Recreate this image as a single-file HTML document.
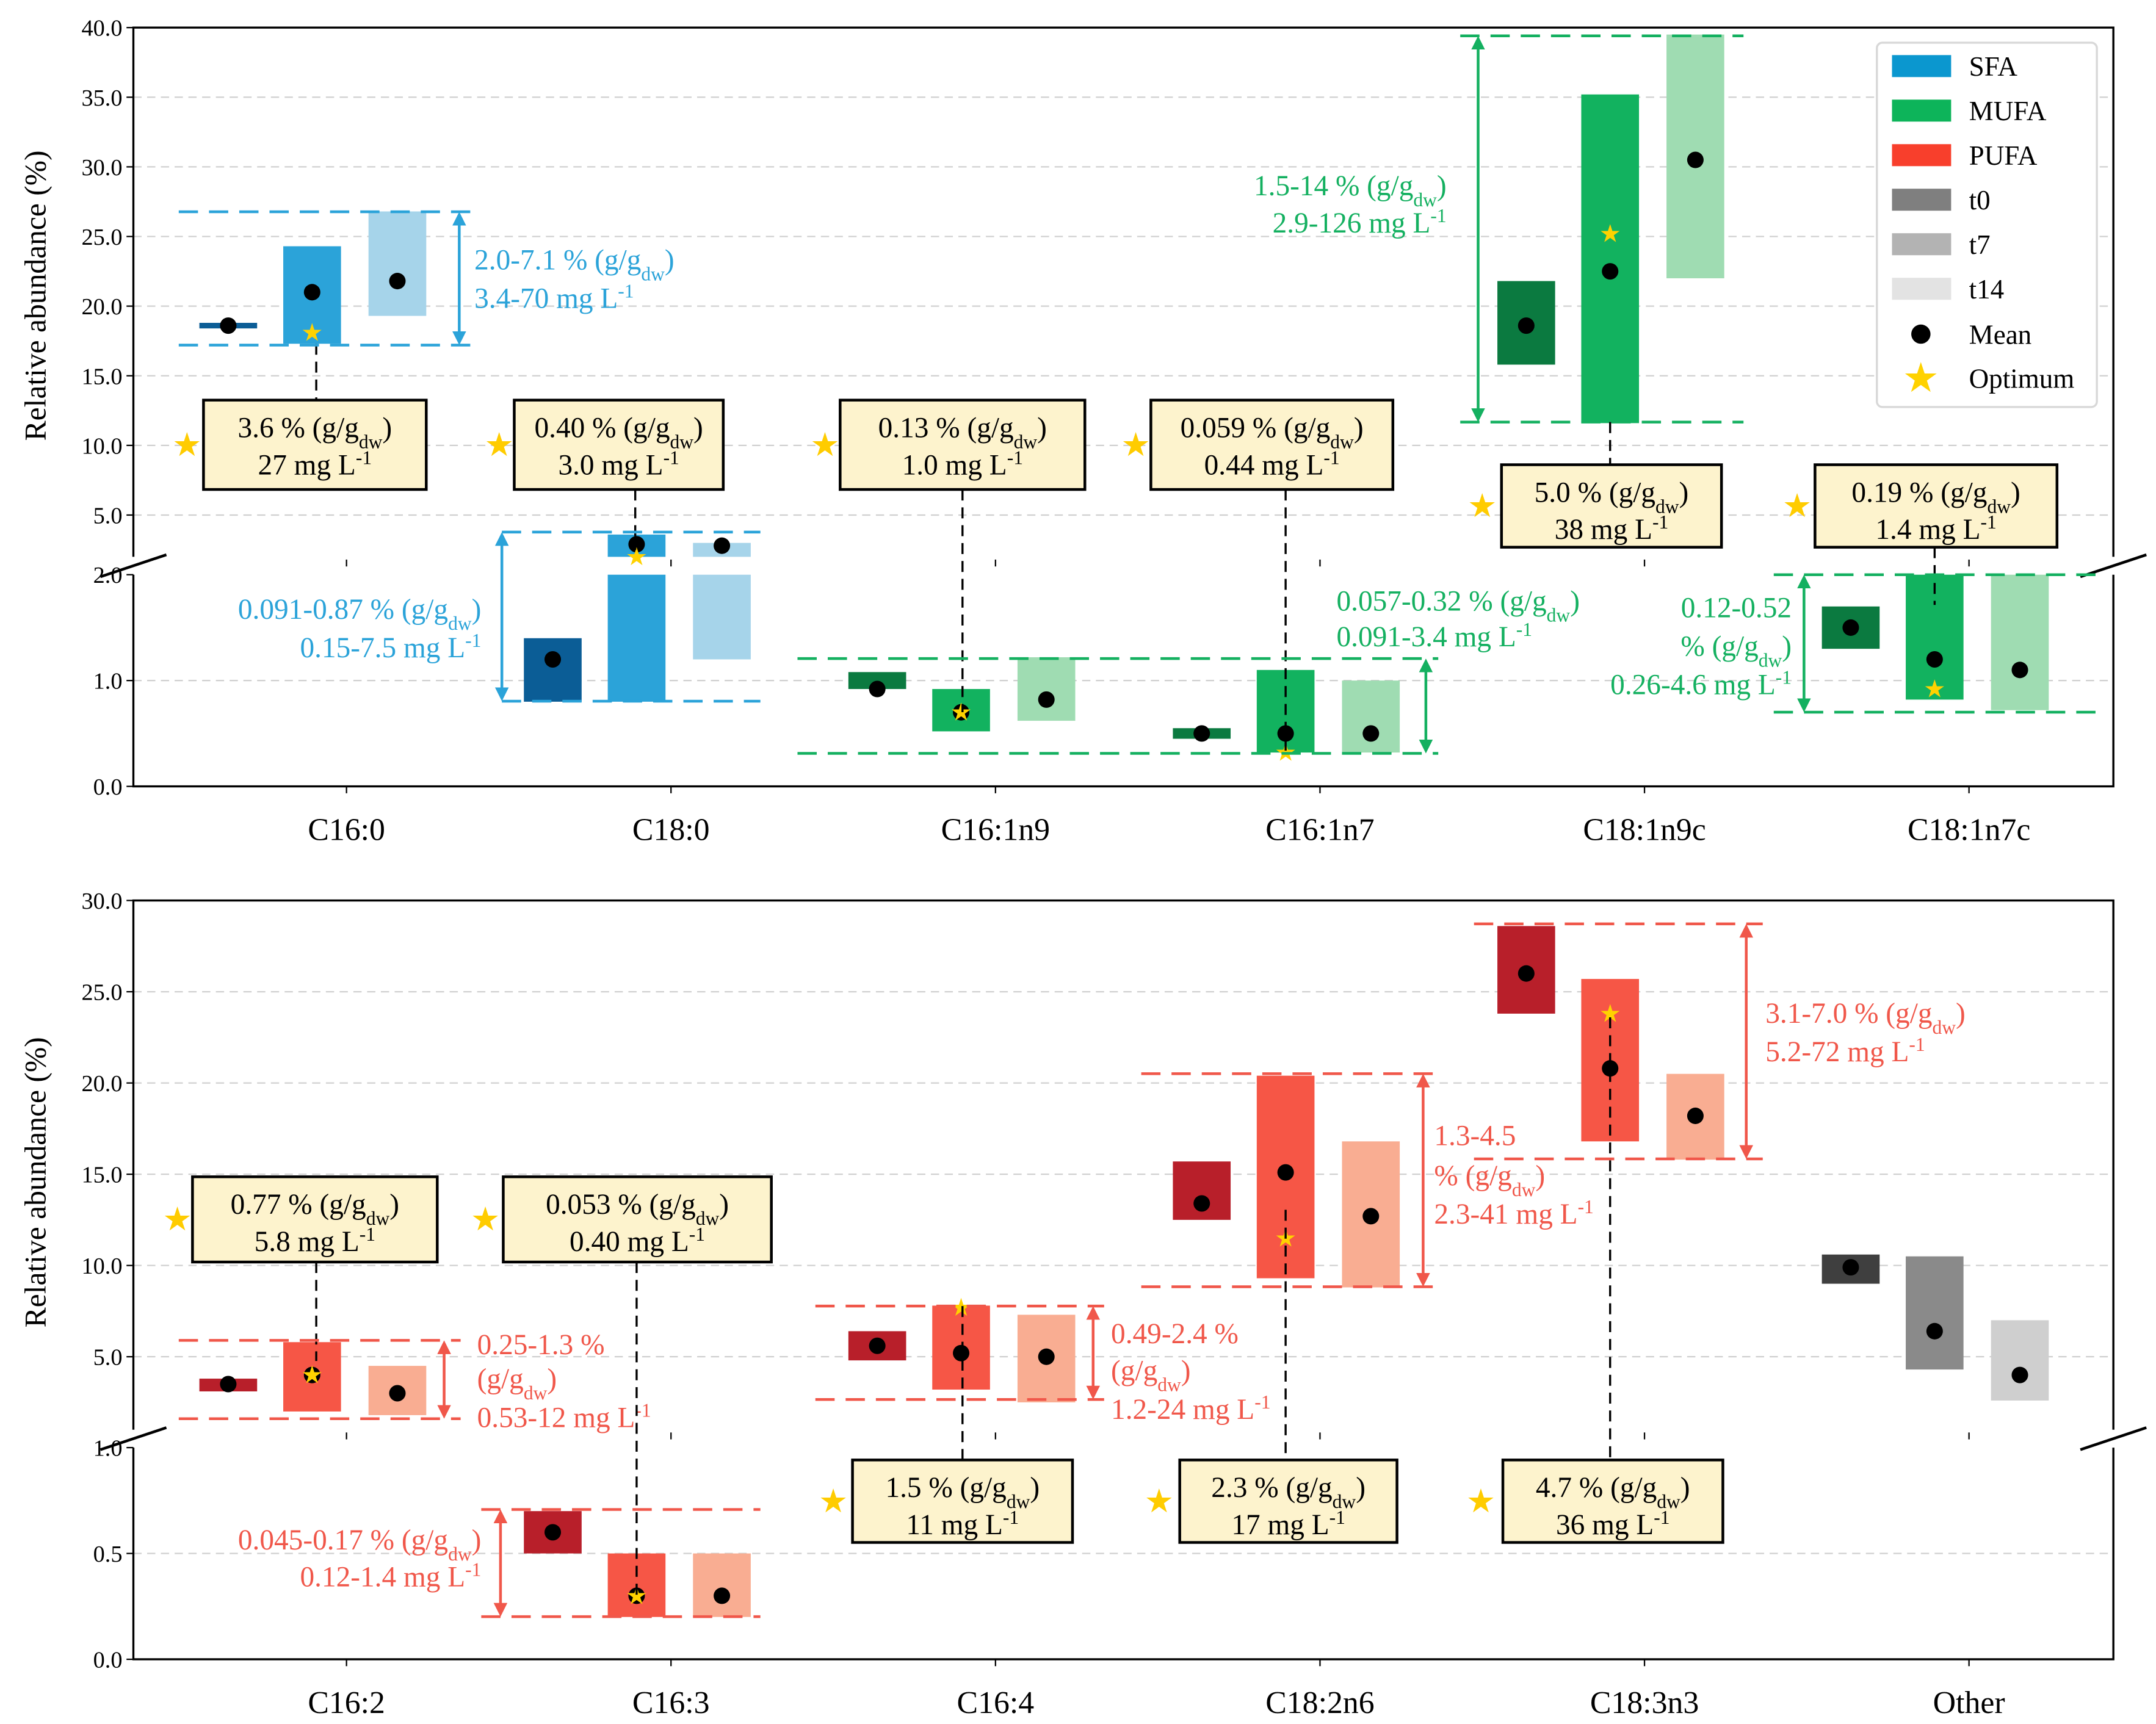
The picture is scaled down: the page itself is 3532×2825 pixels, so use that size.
<!DOCTYPE html>
<html><head><meta charset="utf-8"><style>
html,body{margin:0;padding:0;background:#fff}
svg{display:block}
text{font-family:"Liberation Serif",serif}
</style></head><body>
<svg id="chart" width="3532" height="2825" viewBox="0 0 1568 1254" xmlns="http://www.w3.org/2000/svg">
<defs>
<marker id="arB" markerWidth="10" markerHeight="10" refX="5" refY="5" orient="auto-start-reverse" markerUnits="userSpaceOnUse"><path d="M0,0 L10,5 L0,10 z" fill="#2ba3d9"/></marker>
<marker id="arG" markerWidth="10" markerHeight="10" refX="5" refY="5" orient="auto-start-reverse" markerUnits="userSpaceOnUse"><path d="M0,0 L10,5 L0,10 z" fill="#14b060"/></marker>
<marker id="arR" markerWidth="10" markerHeight="10" refX="5" refY="5" orient="auto-start-reverse" markerUnits="userSpaceOnUse"><path d="M0,0 L10,5 L0,10 z" fill="#f0574a"/></marker>
</defs>
<g id="top"></g>
<g id="bot"></g>
<g id="ann"></g>
</svg>
<script>
// ---- data ----
const topCategories=["C16:0","C18:0","C16:1n9","C16:1n7","C18:1n9c","C18:1n7c"];
const topGroup=["SFA","SFA","MUFA","MUFA","MUFA","MUFA"];
const topLow=[[18.4,17.3,19.3],[0.8,0.8,1.2],[0.92,0.52,0.62],[0.45,0.32,0.32],[15.8,11.6,22.0],[1.3,0.82,0.72]];
const topHigh=[[18.8,24.3,26.8],[1.4,3.6,3.0],[1.08,0.92,1.22],[0.55,1.1,1.0],[21.8,35.2,39.5],[1.7,2.0,2.0]];
const topMean=[[18.6,21.0,21.8],[1.2,2.9,2.8],[0.92,0.7,0.82],[0.5,0.5,0.5],[18.6,22.5,30.5],[1.5,1.2,1.1]];
const topOpt=[18.1,2.0,0.7,0.32,25.2,0.92];
const topUpperTicks=[5,10,15,20,25,30,35,40];
const topLowerTicks=[0,1,2];
const botCategories=["C16:2","C16:3","C16:4","C18:2n6","C18:3n3","Other"];
const botGroup=["PUFA","PUFA","PUFA","PUFA","PUFA","Other"];
const botLow=[[3.1,2.0,1.8],[0.5,0.2,0.2],[4.8,3.2,2.5],[12.5,9.3,8.8],[23.8,16.8,15.8],[9.0,4.3,2.6]];
const botHigh=[[3.8,5.8,4.5],[0.7,0.5,0.5],[6.4,7.8,7.3],[15.7,20.4,16.8],[28.6,25.7,20.5],[10.6,10.5,7.0]];
const botMean=[[3.5,4.0,3.0],[0.6,0.3,0.3],[5.6,5.2,5.0],[13.4,15.1,12.7],[26.0,20.8,18.2],[9.9,6.4,4.0]];
const botOpt=[4.0,0.3,7.7,11.5,23.8,null];
const botUpperTicks=[5,10,15,20,25,30];
const botLowerTicks=[0,0.5,1];

const COLORS={SFA:["#0b5d96","#2ba3d9","#a6d4ea"],MUFA:["#0b7a40","#12b25f","#9fdcb2"],PUFA:["#b81f2a","#f65646","#f9ad92"],Other:["#3f3f3f","#8a8a8a","#cfcfcf"]};
const NS="http://www.w3.org/2000/svg";
function mk(parent,tag,attrs){const e=document.createElementNS(NS,tag);for(const k in attrs)e.setAttribute(k,attrs[k]);parent.appendChild(e);return e;}
const X0=97,X1=1537;
function xCat(i){return 252+i*236;}
const offs=[-86,-25,37], BW=42;

function drawPanel(g,cfg){
  // cfg: yTop,yBot,brkHi (upper seg bottom px), brkLo (lower seg top px), uMin,uMax, lMax
  const uy=v=>cfg.uTopY+(cfg.uMax-v)*(cfg.uBotY-cfg.uTopY)/(cfg.uMax-cfg.uMin);
  const ly=v=>cfg.yBot-v*(cfg.yBot-cfg.lTopY)/cfg.lMax;
  // grid
  cfg.uTicks.forEach(t=>{const y=uy(t);
    const l=mk(g,'line',{x1:X0,x2:X1,y1:y,y2:y,stroke:'#d0d0d0','stroke-dasharray':'6,4','stroke-width':1});
    
    const t2=mk(g,'text',{x:X0-8,y:y+6,'font-size':17,'text-anchor':'end'});t2.textContent=t.toFixed(1);
    
    mk(g,'line',{x1:X0-5,x2:X0,y1:y,y2:y,stroke:'#000'});
  });
  cfg.lTicks.forEach(t=>{const y=ly(t);
    if(t>0&&t<cfg.lMax){const l=mk(g,'line',{x1:X0,x2:X1,y1:y,y2:y,stroke:'#d0d0d0','stroke-dasharray':'6,4'});
      }
    const t2=mk(g,'text',{x:X0-8,y:y+6,'font-size':17,'text-anchor':'end'});t2.textContent=t.toFixed(1);
    
    mk(g,'line',{x1:X0-5,x2:X0,y1:y,y2:y,stroke:'#000'});
  });
  // bars
  cfg.cats.forEach((c,i)=>{
    const cols=COLORS[cfg.group[i]];
    for(let k=0;k<3;k++){
      const lo=cfg.low[i][k],hi=cfg.high[i][k],x=xCat(i)+offs[k]-BW/2;
      // upper segment
      if(hi>cfg.uMin){const a=uy(Math.min(hi,cfg.uMax)),b=uy(Math.max(lo,cfg.uMin));
        const r=mk(g,'rect',{x:x,y:a,width:BW,height:Math.max(b-a,3),fill:cols[k]});
        }
      if(lo<cfg.lMax){const a=ly(Math.min(hi,cfg.lMax)),b=ly(lo);
        const r=mk(g,'rect',{x:x,y:a,width:BW,height:Math.max(b-a,3),fill:cols[k]});
        }
      const m=cfg.mean[i][k];const my=m>=cfg.lMax?uy(m):ly(m);
      const d=mk(g,'circle',{cx:xCat(i)+offs[k],cy:my,r:6,fill:'#000'});
      
    }
    const o=cfg.opt[i];
    if(o!=null){const oy=o>=cfg.lMax?uy(o):ly(o);
      const s=mk(g,'text',{x:xCat(i)+offs[1],y:oy+6,'font-size':18,'text-anchor':'middle',fill:'#ffd200'});s.textContent='★';
      }
    const xt=mk(g,'text',{x:xCat(i),y:cfg.yBot+39,'font-size':23,'text-anchor':'middle'});xt.textContent=c;
    
    mk(g,'line',{x1:xCat(i),x2:xCat(i),y1:cfg.yBot,y2:cfg.yBot+5,stroke:'#000'});
    mk(g,'line',{x1:xCat(i),x2:xCat(i),y1:cfg.uBotY+2,y2:cfg.uBotY+7,stroke:'#000'});
  });
  // frame: white gap band
  const gap=mk(g,'rect',{x:X0-1,y:cfg.uBotY,width:X1-X0+2,height:cfg.lTopY-cfg.uBotY,fill:'none'});
  const f=mk(g,'path',{d:`M${X0},${cfg.uBotY} V${cfg.uTopY} H${X1} V${cfg.uBotY} M${X0},${cfg.lTopY} V${cfg.yBot} H${X1} V${cfg.lTopY}`,fill:'none',stroke:'#000','stroke-width':1.5});
  
  const my=(cfg.uBotY+cfg.lTopY)/2;
  [X0,X1].forEach(x=>{mk(g,'line',{x1:x-24,y1:my+8,x2:x+24,y2:my-8,stroke:'#000','stroke-width':2});});
  const yl=mk(g,'text',{x:0,y:0,'font-size':22,'text-anchor':'middle',transform:`translate(33,${cfg.labelY}) rotate(-90)`});
  yl.textContent='Relative abundance (%)';
}
drawPanel(document.getElementById('top'),{uTopY:20,uBotY:405,uMin:2,uMax:40,lTopY:418,yBot:572,lMax:2,
  uTicks:topUpperTicks,lTicks:topLowerTicks,cats:topCategories,group:topGroup,low:topLow,high:topHigh,mean:topMean,opt:topOpt,labelY:215});
drawPanel(document.getElementById('bot'),{uTopY:655,uBotY:1040,uMin:1,uMax:30,lTopY:1053,yBot:1207,lMax:1,
  uTicks:botUpperTicks,lTicks:botLowerTicks,cats:botCategories,group:botGroup,low:botLow,high:botHigh,mean:botMean,opt:botOpt,labelY:860});

// ---- annotations ----
const A=document.getElementById('ann');
function unitText(x,y,pre,anchor,color,size){
  const t=mk(A,'text',{x:x,y:y,'font-size':size||21,'text-anchor':anchor||'start',fill:color||'#000'});
  t.innerHTML=pre;return t;}
const G='(g/g<tspan baseline-shift="sub" font-size="14">dw</tspan>)';
const L='mg L<tspan baseline-shift="super" font-size="14">-1</tspan>';
function box(x1,y1,x2,y2,l1,l2,starX){
  const r=mk(A,'rect',{x:x1,y:y1,width:x2-x1,height:y2-y1,fill:'#fdf3cd',stroke:'#000','stroke-width':2});
  
  const cx=(x1+x2)/2;
  unitText(cx,y1+27,l1+' % '+G,'middle');
  unitText(cx,y1+54,l2+' '+L,'middle');
  const s=mk(A,'text',{x:starX,y:(y1+y2)/2+8,'font-size':24,'text-anchor':'middle',fill:'#ffcc00'});s.textContent='★';
  
}
function vdash(x,y1,y2){const l=mk(A,'line',{x1:x,x2:x,y1:y1,y2:y2,stroke:'#000','stroke-dasharray':'8,5','stroke-width':1.5});
  }
function range(x1,x2,ya,yb,ax,color,mid){
  [ya,yb].forEach(y=>{const l=mk(A,'line',{x1:x1,x2:x2,y1:y,y2:y,stroke:color,'stroke-dasharray':'14,8','stroke-width':2});
    });
  const a=mk(A,'line',{x1:ax,x2:ax,y1:ya+5,y2:yb-5,stroke:color,'stroke-width':2,'marker-start':`url(#${mid})`,'marker-end':`url(#${mid})`});
  
}
const BL='#2ba3d9',GR='#14b060',RD='#f0574a';
// top
vdash(230,250,291);box(148,291,310,356,'3.6','27',136);
range(130,345,154,251,334,BL,'arB');unitText(345,196,'2.0-7.1 % '+G,'start',BL);unitText(345,224,'3.4-70 '+L,'start',BL);
vdash(462,356,400);box(374,291,526,356,'0.40','3.0',363);
range(365,553,387,510,365,BL,'arB');unitText(350,450,'0.091-0.87 % '+G,'end',BL);unitText(350,478,'0.15-7.5 '+L,'end',BL);
vdash(700,356,518);box(611,291,789,356,'0.13','1.0',600);
vdash(935,356,548);box(837,291,1013,356,'0.059','0.44',826);
range(580,1046,479,548,1037,GR,'arG');unitText(972,444,'0.057-0.32 % '+G,'start',GR);unitText(972,470,'0.091-3.4 '+L,'start',GR);
vdash(1171,307,338);box(1092,338,1252,398,'5.0','38',1078);
range(1062,1268,26,307,1075,GR,'arG');unitText(1052,142,'1.5-14 % '+G,'end',GR);unitText(1052,169,'2.9-126 '+L,'end',GR);
vdash(1407,398,440);box(1320,338,1496,398,'0.19','1.4',1307);
range(1290,1532,418,518,1312,GR,'arG');unitText(1303,449,'0.12-0.52','end',GR);unitText(1303,477,'% '+G,'end',GR);unitText(1303,505,'0.26-4.6 '+L,'end',GR);
// bottom
vdash(230,918,990);box(140,856,318,918,'0.77','5.8',129);
range(130,335,975,1032,323,RD,'arR');unitText(347,985,'0.25-1.3 %','start',RD);unitText(347,1010,G,'start',RD);unitText(347,1038,'0.53-12 '+L,'start',RD);
vdash(463,918,1160);box(366,856,561,918,'0.053','0.40',353);
range(350,553,1098,1176,364,RD,'arR');unitText(350,1127,'0.045-0.17 % '+G,'end',RD);unitText(350,1154,'0.12-1.4 '+L,'end',RD);
vdash(700,950,1062);box(620,1062,780,1122,'1.5','11',606);
range(593,803,950,1018,795,RD,'arR');unitText(808,977,'0.49-2.4 %','start',RD);unitText(808,1004,G,'start',RD);unitText(808,1032,'1.2-24 '+L,'start',RD);
vdash(935,880,1062);box(858,1062,1016,1122,'2.3','17',843);
range(830,1046,781,936,1035,RD,'arR');unitText(1043,833,'1.3-4.5','start',RD);unitText(1043,862,'% '+G,'start',RD);unitText(1043,890,'2.3-41 '+L,'start',RD);
vdash(1171,740,1062);box(1093,1062,1253,1122,'4.7','36',1077);
range(1072,1282,672,843,1270,RD,'arR');unitText(1284,744,'3.1-7.0 % '+G,'start',RD);unitText(1284,772,'5.2-72 '+L,'start',RD);

// legend
const LG=mk(A,'g',{});
mk(LG,'rect',{x:1365,y:31,width:160,height:265,rx:4,fill:'#fff',stroke:'#d8d8d8','stroke-width':1.5});
const legItems=[["SFA","#0b97cf"],["MUFA","#0db45a"],["PUFA","#f83f2c"],["t0","#7f7f7f"],["t7","#b3b3b3"],["t14","#e3e3e3"]];
legItems.forEach((it,i)=>{const y=48+i*32.4;
  const r=mk(LG,'rect',{x:1376,y:y-8,width:43,height:16,fill:it[1]});
  
  const t=mk(LG,'text',{x:1432,y:y+7,'font-size':20});t.textContent=it[0];
  });
mk(LG,'circle',{cx:1397,cy:243,r:7,fill:'#000'});
const tm=mk(LG,'text',{x:1432,y:250,'font-size':20});tm.textContent='Mean';

const st=mk(LG,'text',{x:1397,y:285,'font-size':30,'text-anchor':'middle',fill:'#ffd200'});st.textContent='★';
const to=mk(LG,'text',{x:1432,y:282,'font-size':20});to.textContent='Optimum';

</script>
</body></html>
